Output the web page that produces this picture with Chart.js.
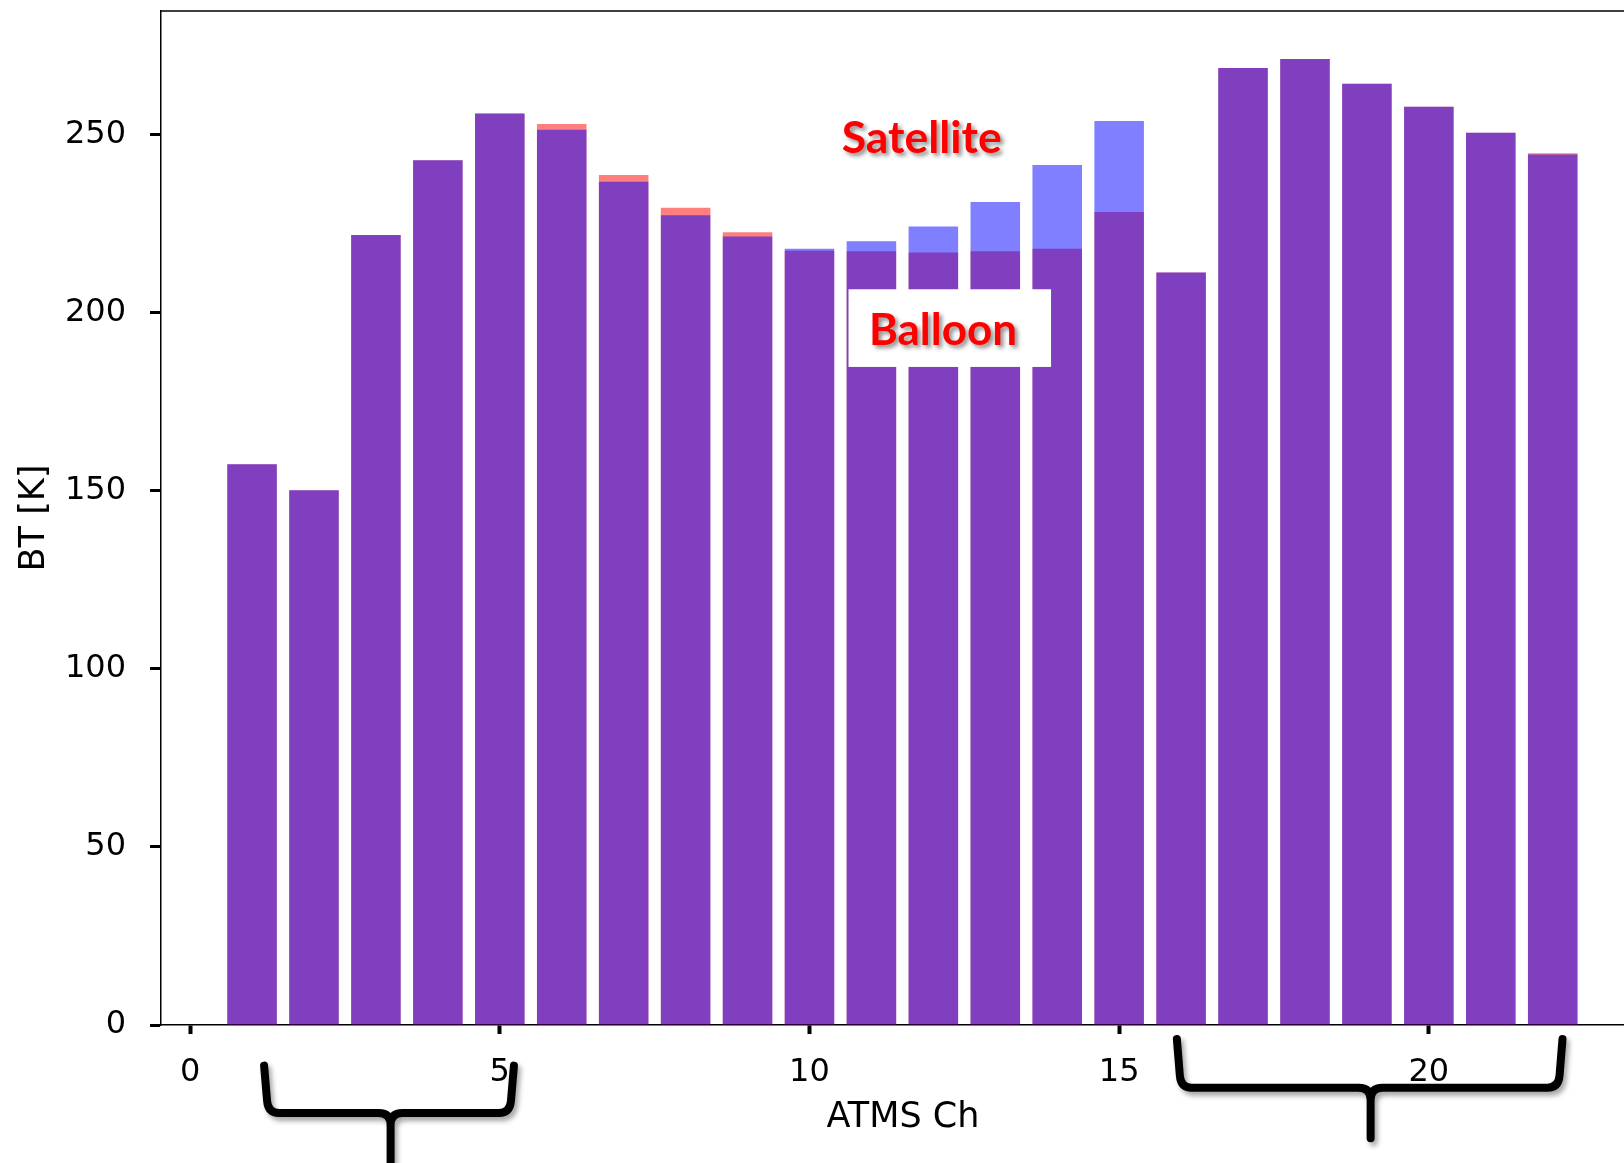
<!DOCTYPE html>
<html>
<head>
<meta charset="utf-8">
<script src="https://cdn.jsdelivr.net/npm/chart.js@4/dist/chart.umd.min.js"></script>
<style>
  html, body { margin: 0; padding: 0; background: #fff; overflow: hidden; }
  #wrap { width: 1624px; height: 1163px; overflow: hidden; position: relative; }
  canvas { display: block; }
</style>
</head>
<body>
<div id="wrap"><canvas id="c" width="1700" height="1163"></canvas></div>
<script>
// ---- data ----
const channels = [1,2,3,4,5,6,7,8,9,10,11,12,13,14,15,16,17,18,19,20,21,22];
const balloonBT = [157.4,150.1,221.7,242.7,256.0,252.9,238.6,229.4,222.5,217.3,217.2,216.8,217.2,217.9,228.2,211.2,268.6,271.1,264.2,257.7,250.4,244.7];
const satelliteBT = [157.4,150.1,221.7,242.7,255.7,251.3,236.7,227.3,221.3,217.9,220.0,224.1,231.0,241.4,253.7,211.2,268.6,271.1,264.2,257.7,250.4,244.3];
const xTicks = [0,5,10,15,20];
const yTicks = [0,50,100,150,200,250];
const xLabel = 'ATMS Ch';
const yLabel = 'BT [K]';
const seriesNames = ['Satellite', 'Balloon'];
// annotation texts
const satelliteText = 'Satellite';
const balloonText = 'Balloon';

const satPts = channels.map((c,i) => ({x:c, y:satelliteBT[i]}));
const balPts = channels.map((c,i) => ({x:c, y:balloonBT[i]}));

function fitFont(ctx, text, targetW, weight, family) {
  ctx.font = weight + ' 100px ' + family;
  const w = ctx.measureText(text).width;
  return 100 * targetW / w;
}

const annot = {
  id: 'annot',
  afterDraw(chart) {
    const {ctx, scales} = chart;
    const X = v => scales.x.getPixelForValue(v);
    const Y = v => scales.y.getPixelForValue(v);
    ctx.save();
    const fam = 'Lato, "Open Sans", sans-serif';
    let fs = fitFont(ctx, satelliteText, 160, 'bold', fam);
    ctx.font = 'bold ' + fs + 'px ' + fam;
    ctx.textBaseline = 'alphabetic';
    ctx.textAlign = 'left';
    ctx.shadowColor = 'rgba(0,0,0,0.45)';
    ctx.shadowBlur = 4;
    ctx.shadowOffsetX = 3;
    ctx.shadowOffsetY = 3;
    ctx.fillStyle = '#ff0000';
    ctx.fillText(satelliteText, X(10.52), Y(244.8));
    // Balloon box
    ctx.shadowColor = 'rgba(0,0,0,0)';
    ctx.fillStyle = '#ffffff';
    const bx0 = X(10.63), bx1 = X(13.90), by0 = Y(206.5), by1 = Y(184.7);
    ctx.fillRect(bx0, by0, bx1 - bx0, by1 - by0);
    fs = fitFont(ctx, balloonText, 148, 'bold', fam);
    ctx.font = 'bold ' + fs + 'px ' + fam;
    ctx.shadowColor = 'rgba(0,0,0,0.45)';
    ctx.fillStyle = '#ff0000';
    ctx.fillText(balloonText, X(10.96), Y(190.8));

    // top spine
    ctx.shadowColor = 'rgba(0,0,0,0)';
    const ca = chart.chartArea;
    ctx.strokeStyle = '#000';
    ctx.lineWidth = 1.5;
    ctx.beginPath();
    ctx.moveTo(ca.left, ca.top);
    ctx.lineTo(ca.right, ca.top);
    ctx.lineTo(ca.right, ca.bottom);
    ctx.stroke();

    // braces
    function brace(xl, xr, xc, yTop, yMid, yBot) {
      const l = X(xl), r = X(xr), c = X(xc);
      const t = Y(yTop), m = Y(yMid), b = Y(yBot);
      const rad = 12;
      ctx.beginPath();
      ctx.moveTo(l - 3, t);
      ctx.lineTo(l, m - rad);
      ctx.quadraticCurveTo(l + 1, m, l + rad, m);
      ctx.lineTo(c - rad, m);
      ctx.quadraticCurveTo(c, m, c, m + rad);
      ctx.lineTo(c, b);
      ctx.moveTo(c, m + rad);
      ctx.quadraticCurveTo(c, m, c + rad, m);
      ctx.lineTo(r - rad, m);
      ctx.quadraticCurveTo(r - 1, m, r, m - rad);
      ctx.lineTo(r + 3, t);
      ctx.stroke();
    }
    ctx.strokeStyle = '#000';
    ctx.lineWidth = 8;
    ctx.lineCap = 'round';
    ctx.lineJoin = 'round';
    ctx.shadowColor = 'rgba(0,0,0,0.35)';
    ctx.shadowBlur = 5;
    ctx.shadowOffsetX = 3;
    ctx.shadowOffsetY = 4;
    brace(1.243, 5.18, 3.237, -11.4, -24.7, -41);
    brace(15.98, 22.11, 19.06, -3.9, -17.6, -31.8);
    ctx.restore();
  }
};

new Chart(document.getElementById('c'), {
  type: 'bar',
  data: {
    datasets: [
      { label: seriesNames[0], data: satPts, backgroundColor: 'rgba(0,0,255,0.5)', borderWidth: 0, grouped: false, categoryPercentage: 1, barPercentage: 0.8 },
      { label: seriesNames[1], data: balPts, backgroundColor: 'rgba(255,0,0,0.5)', borderWidth: 0, grouped: false, categoryPercentage: 1, barPercentage: 0.8 }
    ]
  },
  options: {
    responsive: false,
    animation: false,
    layout: { padding: { left: 0, top: 11, right: 55, bottom: 0 } },
    plugins: { legend: { display: false }, tooltip: { enabled: false } },
    scales: {
      x: {
        type: 'linear',
        offset: false,
        min: -0.47, max: 23.49,
        afterBuildTicks: s => { s.ticks = xTicks.map(v => ({value: v})); },
        afterFit: s => { s.height = 138; s.paddingLeft = 0; s.paddingRight = 0; },
        grid: { display: true, offset: false, drawOnChartArea: false, drawTicks: true, tickLength: 9, tickWidth: 4, tickColor: '#000' },
        border: { display: true, color: '#000', width: 1.5 },
        ticks: { font: { family: 'DejaVu Sans', size: 32 }, color: '#000', padding: 19, maxRotation: 0 },
        title: { display: true, text: xLabel, font: { family: 'DejaVu Sans', size: 35 }, color: '#000', padding: { top: 0, bottom: 24 } }
      },
      y: {
        type: 'linear',
        min: 0, max: 284.6,
        afterBuildTicks: s => { s.ticks = yTicks.map(v => ({value: v})); },
        afterFit: s => { s.width = 161; s.paddingTop = 0; s.paddingBottom = 0; },
        grid: { display: true, drawOnChartArea: false, drawTicks: true, tickLength: 11, tickWidth: 3, tickColor: '#000' },
        border: { display: true, color: '#000', width: 1.5 },
        ticks: { font: { family: 'DejaVu Sans', size: 32 }, color: '#000', padding: 24 },
        title: { display: true, text: yLabel, font: { family: 'DejaVu Sans', size: 35 }, color: '#000', padding: { top: 14, bottom: 0 } }
      }
    }
  },
  plugins: [annot]
});
</script>
</body>
</html>
